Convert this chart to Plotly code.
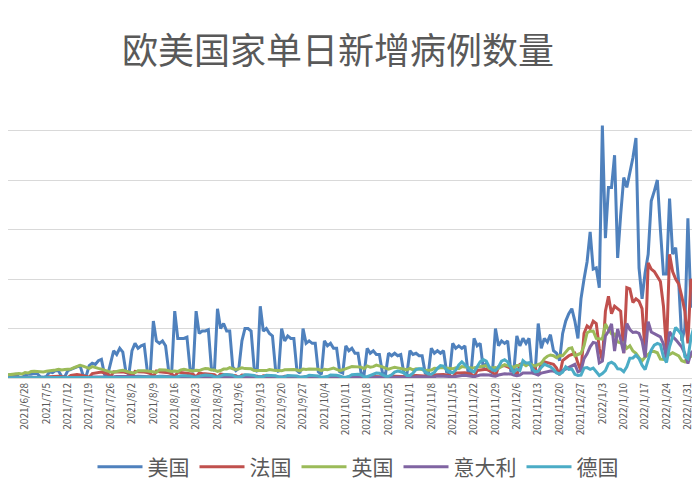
import plotly.graph_objects as go
import pandas as pd

dates = pd.date_range("2021-06-22", "2022-02-07", freq="D")

# daily new cases (thousands), weeks Tue..Mon
us = [12,14,13,15,4,3,10, 16,15,18,17,5,3,6, 25,22,30,28,6,5,30, 35,40,45,50,10,7,50,
      60,55,70,75,15,10,60, 110,95,120,105,25,15,110, 140,120,130,135,30,20,230,
      150,140,150,130,30,20,270, 160,160,160,165,40,25,270, 180,190,190,195,40,30,280,
      200,220,190,190,45,30,40, 150,200,200,190,40,25,290, 190,200,180,170,35,25,200,
      150,170,160,160,30,20,200, 140,150,140,140,25,15,150, 130,140,120,120,25,20,130,
      110,120,100,100,20,15,120, 100,110,95,95,20,15,100, 90,100,90,95,20,15,110,
      95,100,90,90,20,15,120, 100,110,100,110,25,20,140, 120,130,120,130,25,20,160,
      130,140,40,60,30,20,200, 130,150,140,150,30,25,170, 130,160,140,160,30,20,220,
      120,160,145,175,110,100,70, 180,230,260,280,230,160,320, 400,470,590,440,445,365,1020,
      565,770,770,900,485,660,810, 770,830,890,970,445,320,425, 500,715,755,800,600,420,420,
      725,500,527,385,150,200,645, 285,365,300,460,150,100,400]
fr = [2,3,3,3,2,2,1, 3,4,4,4,3,3,1, 5,6,7,7,5,4,2, 10,12,14,12,10,8,3, 18,21,22,24,20,18,5,
      25,24,26,25,22,20,6, 27,25,26,24,22,18,6, 28,25,24,22,21,17,5, 24,22,21,20,18,15,4,
      20,18,17,16,15,13,3, 16,14,13,12,11,9,2, 12,11,10,9,8,7,2, 9,8,7,7,6,5,1,
      7,6,6,5,5,4,1, 6,5,5,5,4,3,1, 5,5,5,5,4,3,1, 5,5,5,5,4,3,1, 6,6,6,6,5,4,1,
      7,7,7,7,6,5,1, 9,10,10,10,8,7,2, 12,13,14,14,12,10,3, 20,20,22,21,18,16,5,
      30,32,33,35,30,25,8, 45,48,50,45,40,30,10, 55,60,60,55,50,40,12, 60,65,62,58,55,40,12,
      70,80,90,95,100,60,30, 180,210,200,230,220,120,70, 270,330,260,290,280,270,100,
      365,360,305,320,310,280,100, 465,440,430,410,390,290,110, 500,430,400,380,330,270,140,
      400,360,300,270,250,200,70]
uk = [12,14,16,16,18,16,22, 20,26,27,25,24,24,27, 28,32,32,35,32,34,35, 36,42,48,51,48,44,39,
      46,44,39,36,31,29,24, 23,27,29,31,26,24,21, 21,29,30,29,28,26,25, 23,33,33,32,29,26,28,
      26,33,35,32,31,28,31, 30,35,38,37,32,32,27, 30,36,36,42,37,34,37, 41,38,38,37,30,30,29,
      32,30,34,31,30,30,29, 33,34,36,34,32,29,36, 34,36,36,35,35,30,35, 33,38,40,35,30,33,39,
      42,46,45,43,44,38,49, 44,46,52,50,45,40,36, 40,43,41,39,37,33,39, 33,37,37,34,30,31,32,
      39,38,42,41,39,37,37, 41,38,46,44,40,40,41, 44,45,47,50,39,42,42, 39,48,54,50,45,43,51,
      51,58,50,58,54,48,55, 59,78,88,93,90,82,91, 90,106,119,122,90,95,100,
      130,183,189,190,160,160,157, 218,195,179,178,146,141,142, 120,130,109,100,82,70,85,
      95,108,107,102,76,75,92, 95,102,96,89,70,65,89, 90,88,68,67,60,55,70]
it = [1,1,1,1,1,1,0.5, 1,1,1,1,1,1,0.5, 1,2,2,2,1.5,1,1, 2,3,3,3,3,2,1, 4,4,5,5,5,4,2,
      5,6,6,6,6,5,3, 6,7,7,7,6,5,3, 6,7,7,7,6,5,3, 5,7,7,6,6,5,3, 5,7,7,6,6,5,3,
      5,6,6,6,5,4,2, 4,5,5,5,4,3,2, 4,5,5,4,4,3,2, 3,4,4,4,3,3,2, 3,3,3,3,3,2,1,
      2,3,3,3,3,2,1, 2,3,3,3,3,2,1, 3,3,3,3,3,3,1, 3,4,4,4,4,3,2, 3,5,6,6,5,4,3,
      5,8,8,8,8,6,4, 7,10,10,11,10,7,5, 9,12,13,14,12,9,7, 12,16,17,16,17,12,9,
      12,20,20,21,20,17,12, 20,23,26,28,28,24,17, 30,36,44,50,55,25,30,
      78,98,126,144,141,61,68, 170,189,219,109,198,155,101, 220,196,184,186,180,150,83,
      228,186,180,172,166,138,77, 187,167,155,140,125,99,58, 101,112,108,100,90,80,40]
de = [1,1,1,1,0.5,0.5,0.3, 1,1,1,1,0.5,0.5,0.3, 1,1,1,1,0.6,0.5,0.3, 1,1,2,2,1,1,0.5,
      2,2,2,2,1,1,1, 2,3,3,3,2,1,1, 3,4,4,4,3,2,1, 4,6,6,6,5,3,2, 6,9,9,9,8,4,3,
      7,11,12,11,10,5,4, 8,13,14,13,11,5,4, 7,13,13,12,10,4,4, 6,11,11,11,9,4,3,
      5,10,10,10,8,3,3, 6,11,11,9,8,3,3, 6,12,12,11,8,3,3, 6,13,14,15,12,5,5,
      10,17,20,19,14,7,7, 13,24,28,25,21,10,10, 20,34,37,37,25,16,15, 23,39,50,48,33,24,21,
      32,53,65,52,42,30,24, 45,66,75,68,44,32,30, 45,68,74,65,45,23,36, 30,70,60,62,40,25,27,
      43,56,50,45,35,20,16, 24,45,35,36,15,10,12, 40,42,35,40,25,10,18,
      30,58,64,56,37,36,25, 45,80,81,92,78,52,34, 75,113,133,140,135,85,63,
      126,165,204,190,173,86,78, 162,208,236,300,200,114,95]

names = ["美国", "法国", "英国", "意大利", "德国"]
series = [us, fr, uk, it, de]
colors = ["#4F81BD", "#C0504D", "#9BBB59", "#8064A2", "#4BACC6"]

tick_dates = pd.date_range("2021-06-28", "2022-02-07", freq="7D")
tick_text = [f"{d.year}/{d.month}/{d.day}" for d in tick_dates]

fig = go.Figure()
for n, s, c in zip(names, series, colors):
    fig.add_trace(go.Scatter(x=dates, y=[v * 1000 for v in s], name=n, mode="lines",
                             line=dict(color=c, width=3)))

fig.update_layout(
    width=700, height=500, paper_bgcolor="white", plot_bgcolor="white",
    margin=dict(l=0, r=0, t=73, b=130),
    font=dict(family="Noto Sans CJK SC, sans-serif", color="#595959"),
    showlegend=True,
    legend=dict(orientation="h", x=0.5, xanchor="center", y=-0.30, yanchor="middle",
                font=dict(size=21, color="#595959"), itemwidth=45),
    annotations=[dict(text="欧美国家单日新增病例数量", x=0.471, xref="paper", xanchor="center",
                      y=1 + (73 - 40) / 297, yref="paper", yanchor="middle", showarrow=False,
                      font=dict(size=36, color="#595959"))],
)
fig.update_xaxes(range=["2021-06-22 10:00", "2022-02-06 14:00"], tickvals=tick_dates,
                 ticktext=tick_text, tickangle=-90, tickfont=dict(size=10, color="#595959"),
                 showgrid=False, showline=True, linecolor="#D9D9D9", ticks="")
fig.update_yaxes(range=[0, 1200000], dtick=200000, showticklabels=False,
                 gridcolor="#D9D9D9", zeroline=False)
fig.write_html("out.html")
